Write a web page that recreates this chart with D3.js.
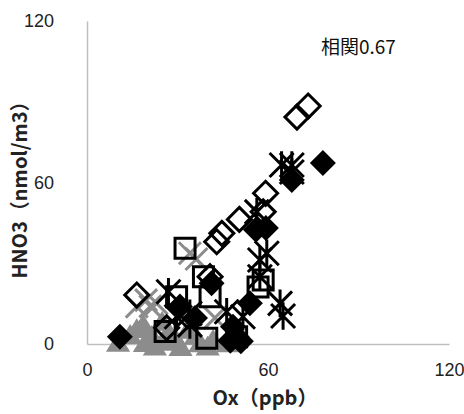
<!DOCTYPE html>
<html>
<head>
<meta charset="utf-8">
<script src="https://cdn.jsdelivr.net/npm/d3@7"></script>
<style>
  html, body { margin: 0; padding: 0; background: #fff; }
  svg { display: block; }
</style>
</head>
<body>
<svg id="chart" width="464" height="414"></svg>
<script>
// Ox (ppb) vs HNO3 (nmol/m3), one series per marker style
const xTicks = [0, 60, 120];
const yTicks = [0, 60, 120];
const xTitle = "Ox（ppb）";
const yTitle = "HNO3（nmol/m3）";
const note = "相関0.67";

const grayTriangle = [[10.3,0.4],[14.3,3.3],[18.6,7.1],[21.5,3.0],[24.9,8.2],[29.2,2.2],[33.5,5.2],[37.5,0.2],[41.8,1.5],[46.7,0.2],[19.2,0.3],[27.0,4.5],[22.5,-1.0],[31.0,-1.2],[36.0,3.0],[16.5,5.5],[40.0,-1.0],[26.0,0.8]];
const grayCross = [[34.1,33.7],[36.3,31.6],[23.1,15.1],[16.5,13.9],[19.6,16.3],[42.4,9.7],[21.0,14.0]];
const openDiamond = [[69.6,84.3],[73.3,88.4],[59.2,56.0],[58.4,49.1],[50.5,46.3],[44.7,41.1],[43.0,38.0],[40.8,25.0],[16.5,18.2],[26.4,6.0]];
const filledDiamond = [[78.2,67.2],[67.9,60.9],[56.0,42.4],[59.3,43.1],[41.3,22.6],[54.0,15.1],[48.4,6.4],[10.9,2.7],[30.8,13.9],[49.6,2.7],[35.8,9.7],[47.5,1.2],[51.0,1.0]];
const openSquare = [[32.5,35.6],[38.6,25.0],[58.4,23.8],[29.7,17.6],[40.8,17.6],[25.9,4.6],[39.7,2.1],[49.6,2.7],[56.7,21.2]];
const asterisk = [[64.5,66.5],[67.9,66.5],[67.9,63.9],[56.3,49.1],[59.6,33.7],[57.3,25.0],[64.0,15.1],[65.0,10.4],[27.0,19.4],[34.1,11.4],[46.3,12.0],[51.7,10.1],[29.7,10.1],[34.1,7.1],[57.3,31.2]];

const svg = d3.select("#chart");
const x = d3.scaleLinear().domain([0, 120]).range([87, 449]);
const y = d3.scaleLinear().domain([0, 120]).range([344, 21]);

// axes
const gx = svg.append("g").attr("transform", `translate(0,${y(0)})`)
  .call(d3.axisBottom(x).tickValues(xTicks).tickSize(0).tickSizeOuter(0).tickPadding(19));
const gy = svg.append("g").attr("transform", `translate(${x(0)},0)`)
  .call(d3.axisLeft(y).tickValues(yTicks).tickSize(0).tickSizeOuter(0).tickPadding(33));
[gx, gy].forEach(g => {
  g.select(".domain").attr("stroke", "#bfbfbf").attr("stroke-width", 1.5);
  g.selectAll("text").attr("font-family", "Liberation Sans, Arial, sans-serif")
    .attr("font-size", 18).attr("fill", "#222");
});

// marker shapes
const diamondPath = r => `M0,${-r}L${r},0L0,${r}L${-r},0Z`;
const squarePath = r => `M${-r},${-r}H${r}V${r}H${-r}Z`;
const trianglePath = r => `M0,${-r}L${r * 1.1},${r * 0.8}L${-r * 1.1},${r * 0.8}Z`;
const crossPath = r => `M${-r},${-r}L${r},${r}M${-r},${r}L${r},${-r}`;
const starPath = r => `M${-r},${-r}L${r},${r}M${-r},${r}L${r},${-r}M0,${-r * 1.15}V${r * 1.15}`;

const plot = svg.append("g");
function draw(data, path, fill, stroke, width) {
  plot.append("g").selectAll("path").data(data).join("path")
    .attr("transform", d => `translate(${x(d[0])},${y(d[1])})`)
    .attr("d", path)
    .attr("fill", fill)
    .attr("stroke", stroke)
    .attr("stroke-width", width)
    .attr("stroke-linejoin", "miter");
}
draw(grayTriangle, trianglePath(11), "#8c8c8c", "none", 0);
draw(grayCross, crossPath(11), "none", "#8c8c8c", 3);
draw(openDiamond, diamondPath(12), "none", "#000", 3);
draw(filledDiamond, diamondPath(13), "#000", "none", 0);
draw(openSquare, squarePath(10), "none", "#000", 3);
draw(asterisk, starPath(12), "none", "#000", 3);

// titles
svg.append("text").attr("x", 265).attr("y", 405).attr("text-anchor", "middle")
  .attr("font-family", "Noto Sans CJK JP, sans-serif").attr("font-weight", "bold")
  .attr("font-size", 20).attr("fill", "#222").text(xTitle);
svg.append("text").attr("transform", "translate(27,185) rotate(-90)").attr("text-anchor", "middle")
  .attr("font-family", "Noto Sans CJK JP, sans-serif").attr("font-weight", "bold")
  .attr("font-size", 20).attr("fill", "#222").text(yTitle);
svg.append("text").attr("x", 321).attr("y", 54)
  .attr("font-family", "Noto Sans CJK JP, sans-serif")
  .attr("font-size", 19).attr("fill", "#111").text(note);
</script>
</body>
</html>
